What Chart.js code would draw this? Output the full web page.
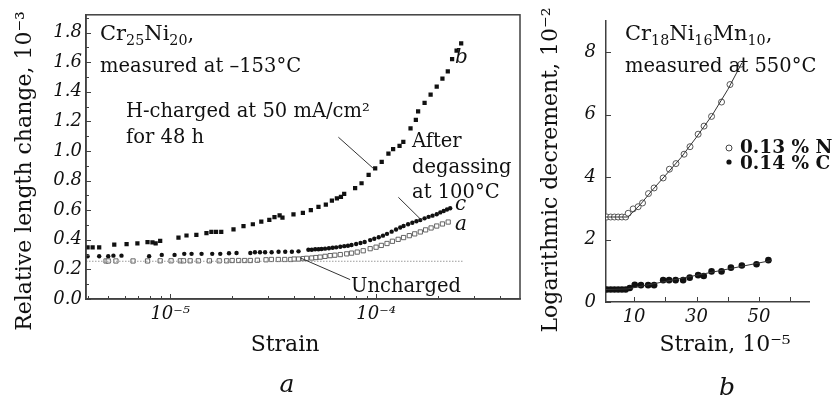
<!DOCTYPE html>
<html><head><meta charset="utf-8">
<script src="https://cdn.jsdelivr.net/npm/chart.js@4.4.0/dist/chart.umd.min.js"></script>
<style>
html,body{margin:0;padding:0;background:#fff;width:839px;height:404px;overflow:hidden}
#wa{position:absolute;left:0;top:0;width:530px;height:404px}
#wb{position:absolute;left:530px;top:0;width:309px;height:404px}
</style></head><body>
<div id="wa"><canvas id="ca" width="530" height="404"></canvas></div>
<div id="wb"><canvas id="cb" width="309" height="404"></canvas></div>
<script>
// ---------- Panel a: Cr25Ni20, relative length change (10^-3) vs strain ----------
const bStrain = [3.97e-6,4.2e-6,4.52e-6,5.35e-6,6.14e-6,6.93e-6,7.76e-6,8.2e-6,8.5e-6,8.94e-6,1.097e-5,1.2e-5,1.34e-5,1.5e-5,1.585e-5,1.67e-5,1.77e-5,2.03e-5,2.27e-5,2.52e-5,2.77e-5,3.03e-5,3.21e-5,3.4e-5,3.51e-5,3.97e-5,4.41e-5,4.82e-5,5.25e-5,5.7e-5,6.1e-5,6.45e-5,6.75e-5,7.0e-5,7.91e-5,8.5e-5,9.2e-5,9.9e-5,1.065e-4,1.148e-4,1.21e-4,1.30e-4,1.356e-4,1.47e-4,1.56e-4,1.6e-4,1.72e-4,1.84e-4,1.97e-4,2.1e-4,2.23e-4,2.34e-4,2.46e-4,2.59e-4];
const bLength = [0.349,0.349,0.349,0.367,0.371,0.375,0.385,0.382,0.375,0.393,0.415,0.429,0.433,0.445,0.453,0.453,0.453,0.471,0.493,0.505,0.522,0.535,0.553,0.565,0.549,0.571,0.582,0.600,0.622,0.638,0.665,0.68,0.69,0.71,0.749,0.782,0.838,0.882,0.927,0.982,1.013,1.035,1.062,1.153,1.21,1.268,1.325,1.38,1.435,1.488,1.538,1.62,1.678,1.727];
const cStrain = [3.97e-6,4.52e-6,5.0e-6,5.3e-6,5.8e-6,7.9e-6,9.1e-6,1.05e-5,1.17e-5,1.27e-5,1.42e-5,1.6e-5,1.75e-5,1.93e-5,2.1e-5,2.45e-5,2.58e-5,2.73e-5,2.89e-5,3.11e-5,3.36e-5,3.62e-5,3.9e-5,4.2e-5,4.69e-5,4.87e-5,5.06e-5,5.25e-5,5.43e-5,5.65e-5,5.9e-5,6.15e-5,6.4e-5,6.7e-5,7.0e-5,7.3e-5,7.6e-5,8.0e-5,8.4e-5,8.8e-5,9.36e-5,9.8e-5,1.03e-4,1.08e-4,1.13e-4,1.19e-4,1.25e-4,1.31e-4,1.36e-4,1.43e-4,1.5e-4,1.57e-4,1.64e-4,1.72e-4,1.8e-4,1.88e-4,1.97e-4,2.05e-4,2.13e-4,2.21e-4,2.29e-4];
const cLength = [0.289,0.289,0.289,0.293,0.293,0.289,0.298,0.298,0.305,0.305,0.305,0.305,0.305,0.309,0.311,0.311,0.316,0.316,0.316,0.316,0.319,0.319,0.319,0.322,0.333,0.333,0.336,0.336,0.338,0.340,0.343,0.346,0.349,0.353,0.357,0.360,0.365,0.372,0.378,0.385,0.398,0.407,0.417,0.428,0.440,0.455,0.470,0.483,0.493,0.505,0.515,0.525,0.533,0.545,0.555,0.563,0.573,0.585,0.595,0.605,0.613];
const aStrain = [4.88e-6,5.0e-6,5.45e-6,6.6e-6,7.76e-6,8.94e-6,1.01e-5,1.12e-5,1.16e-5,1.25e-5,1.37e-5,1.55e-5,1.73e-5,1.88e-5,2.0e-5,2.15e-5,2.3e-5,2.45e-5,2.65e-5,2.92e-5,3.1e-5,3.35e-5,3.6e-5,3.85e-5,4.0e-5,4.2e-5,4.43e-5,4.6e-5,4.87e-5,5.1e-5,5.35e-5,5.65e-5,5.98e-5,6.3e-5,6.7e-5,7.2e-5,7.6e-5,8.1e-5,8.66e-5,9.36e-5,1.0e-4,1.06e-4,1.13e-4,1.2e-4,1.28e-4,1.36e-4,1.45e-4,1.54e-4,1.64e-4,1.74e-4,1.85e-4,1.97e-4,2.1e-4,2.24e-4];
const aLength = [0.257,0.257,0.257,0.257,0.257,0.258,0.258,0.258,0.258,0.258,0.258,0.258,0.258,0.258,0.260,0.260,0.260,0.260,0.262,0.265,0.267,0.267,0.267,0.267,0.270,0.270,0.273,0.275,0.277,0.280,0.283,0.288,0.293,0.296,0.300,0.305,0.310,0.317,0.326,0.340,0.350,0.362,0.375,0.390,0.403,0.415,0.428,0.440,0.453,0.467,0.480,0.493,0.507,0.520];
const baseStrain = [3.9e-6, 2.64e-4];
const baseLength = [0.255, 0.255];
const aXTicks = [4e-6,5e-6,6e-6,7e-6,8e-6,9e-6,1e-5,2e-5,3e-5,4e-5,5e-5,6e-5,7e-5,8e-5,9e-5,1e-4,2e-4,3e-4,4e-4];
const aXMajor = [1e-5, 1e-4];
const aXLabels = ["10\u207B\u2075", "10\u207B\u2074"];
const aYTicks = [0,0.1,0.2,0.3,0.4,0.5,0.6,0.7,0.8,0.9,1.0,1.1,1.2,1.3,1.4,1.5,1.6,1.7,1.8,1.9];
const aYLabels = ["0.0","0.2","0.4","0.6","0.8","1.0","1.2","1.4","1.6","1.8"];
// leader lines (data coords: [x1,y1,x2,y2])
const leaderH = [6.56e-5, 1.093, 9.7e-5, 0.882];
const leaderDegas = [1.283e-4, 0.687, 1.667e-4, 0.531];
const leaderUnch = [4.28e-5, 0.278, 7.48e-5, 0.131];

// ---------- Panel b: Cr18Ni16Mn10, logarithmic decrement (10^-2) vs strain (10^-5) ----------
const nStrain = [1.3,2.5,3.7,4.9,6.1,7.3,8.1,9.7,11.3,12.7,14.6,16.4,19.3,21.3,23.4,26.0,27.9,30.5,32.4,34.8,38.0,40.7,44.2];
const nDecr   = [2.72,2.72,2.72,2.72,2.72,2.72,2.84,2.98,3.05,3.17,3.47,3.65,3.97,4.25,4.43,4.73,4.97,5.37,5.63,5.94,6.40,6.96,7.61];
const cbStrain = [1.3,2.5,3.7,4.9,6.1,7.3,8.6,10.2,12.2,14.5,16.4,19.3,21.2,23.3,25.7,27.8,30.5,32.3,34.8,38.0,41.0,44.5,49.2,53.0];
const cbDecr   = [0.40,0.40,0.40,0.40,0.40,0.40,0.45,0.55,0.54,0.54,0.54,0.70,0.70,0.70,0.70,0.78,0.86,0.83,0.98,0.98,1.10,1.17,1.21,1.34];
const fitNStrain = [1,8,12,16,20,25,30,35,40,44.5];
const fitNDecr   = [2.72,2.72,3.12,3.6,4.05,4.62,5.28,5.98,6.8,7.65];
const fitCStrain = [1,8,54];
const fitCDecr   = [0.40,0.42,1.33];
const bXTicks = [10,20,30,40,50,60];
const bXLabels = ["10","30","50"];
const bYTicks = [0,2,4,6,8];

const SERIF = "'DejaVu Serif', serif";
const AXIS = '#404040';
const INK = '#111';
const zip = (xs, ys) => xs.map((x, i) => ({x, y: ys[i]}));

function txt(ctx, s, x, y, size, opt = {}) {
  ctx.save();
  ctx.font = `${opt.style || 'normal'} ${opt.weight || 'normal'} ${size}px ${SERIF}`;
  ctx.fillStyle = opt.color || INK;
  ctx.textAlign = opt.align || 'left';
  ctx.textBaseline = 'middle';
  if (opt.rot) { ctx.translate(x, y); ctx.rotate(opt.rot); ctx.fillText(s, 0, 0); }
  else ctx.fillText(s, x, y);
  ctx.restore();
}
function rich(ctx, parts, x, y, size) {
  ctx.save();
  ctx.fillStyle = INK; ctx.textAlign = 'left'; ctx.textBaseline = 'middle';
  let cx = x;
  for (const [t, k] of parts) {
    const s = k === 'sub' ? size * 0.68 : size;
    ctx.font = `${s}px ${SERIF}`;
    ctx.fillText(t, cx, y + (k === 'sub' ? size * 0.32 : 0));
    cx += ctx.measureText(t).width;
  }
  ctx.restore();
}
function leader(chart, d) {
  const {ctx} = chart, xs = chart.scales.x, ys = chart.scales.y;
  ctx.save(); ctx.strokeStyle = '#333'; ctx.lineWidth = 1;
  ctx.beginPath();
  ctx.moveTo(xs.getPixelForValue(d[0]), ys.getPixelForValue(d[1]));
  ctx.lineTo(xs.getPixelForValue(d[2]), ys.getPixelForValue(d[3]));
  ctx.stroke(); ctx.restore();
}
function inwardTicks(chart, major, minor) {
  const {ctx, chartArea: ca} = chart, xs = chart.scales.x, ys = chart.scales.y;
  ctx.save(); ctx.strokeStyle = AXIS; ctx.lineWidth = 1;
  ctx.beginPath();
  xs.ticks.forEach(t => { const p = Math.round(xs.getPixelForValue(t.value)) + 0.5; const l = t.label ? major : minor; ctx.moveTo(p, ca.bottom); ctx.lineTo(p, ca.bottom - l); });
  ys.ticks.forEach(t => { const p = Math.round(ys.getPixelForValue(t.value)) + 0.5; const l = t.label ? major : minor; ctx.moveTo(ca.left, p); ctx.lineTo(ca.left + l, p); });
  ctx.stroke(); ctx.restore();
}
function logLabel(v) {
  const i = aXMajor.findIndex(m => Math.abs(Math.log10(v) - Math.log10(m)) < 1e-6);
  return i >= 0 ? aXLabels[i] : '';
}

const tickFont = {family: SERIF, size: 18, style: 'italic'};
const TXT = 19.5;

const decorA = {
  id: 'decorA',
  afterDraw(chart) {
    const {ctx, chartArea: ca} = chart;
    ctx.save(); ctx.strokeStyle = AXIS; ctx.lineWidth = 1.5;
    ctx.strokeRect(ca.left, ca.top, ca.right - ca.left, ca.bottom - ca.top);
    ctx.restore();
    inwardTicks(chart, 5, 3);
    leader(chart, leaderH); leader(chart, leaderDegas); leader(chart, leaderUnch);
    rich(ctx, [['Cr'], ['25', 'sub'], ['Ni'], ['20', 'sub'], [',']], 100, 35, 21);
    txt(ctx, 'measured at \u2013153\u00B0C', 100, 67, TXT);
    txt(ctx, 'H-charged at 50 mA/cm\u00B2', 126, 112, TXT);
    txt(ctx, 'for 48 h', 126, 138, TXT);
    txt(ctx, 'After', 412, 142, TXT);
    txt(ctx, 'degassing', 412, 168, TXT);
    txt(ctx, 'at 100\u00B0C', 412, 193, TXT);
    txt(ctx, 'Uncharged', 351, 287, TXT);
    txt(ctx, 'b', 455, 58, 20, {style: 'italic'});
    txt(ctx, 'c', 455, 205, 20, {style: 'italic'});
    txt(ctx, 'a', 455, 225, 20, {style: 'italic'});
    txt(ctx, 'Strain', 285, 345, 22, {align: 'center'});
    txt(ctx, 'a', 287, 385, 25, {align: 'center', style: 'italic'});
    txt(ctx, 'Relative length change, 10\u207B\u00B3', 25, 171, 22, {align: 'center', rot: -Math.PI / 2});
  }
};

new Chart(document.getElementById('ca'), {
  type: 'scatter',
  data: {datasets: [
    {label: 'Uncharged level', data: zip(baseStrain, baseLength), showLine: true, borderColor: '#9a9a9a', borderWidth: 1.2, borderDash: [1.5, 1.5], pointRadius: 0},
    {label: 'a (uncharged)', data: zip(aStrain, aLength), pointStyle: 'rect', pointRadius: 3, borderColor: '#555', borderWidth: 0.9, backgroundColor: '#fff'},
    {label: 'c (after degassing)', data: zip(cStrain, cLength), pointStyle: 'circle', pointRadius: 2.2, borderWidth: 0, backgroundColor: INK},
    {label: 'b (H-charged)', data: zip(bStrain, bLength), pointStyle: 'rect', pointRadius: 3, borderWidth: 0, backgroundColor: INK}
  ]},
  options: {
    responsive: false, animation: false,
    layout: {padding: {left: 0, top: 11, right: 10, bottom: 0}},
    plugins: {legend: {display: false}, tooltip: {enabled: false}},
    scales: {
      x: {
        type: 'logarithmic', min: 3.9e-6, max: 5.0e-4,
        afterBuildTicks: s => { s.ticks = aXTicks.map(v => ({value: v})); },
        afterFit: s => { s.height = 105; },
        ticks: {autoSkip: false, maxRotation: 0, padding: 5, color: INK, font: tickFont,
          callback: v => logLabel(v)},
        grid: {drawOnChartArea: false, drawTicks: false},
        border: {color: AXIS, width: 1.5}
      },
      y: {
        type: 'linear', min: 0, max: 1.92,
        afterBuildTicks: s => { s.ticks = aYTicks.map(v => ({value: v})); },
        afterFit: s => { s.width = 86; },
        ticks: {autoSkip: false, padding: 4, color: INK, font: tickFont,
          callback: v => { const k = Math.round(v * 10); return k % 2 === 0 ? aYLabels[k / 2] : ''; }},
        grid: {drawOnChartArea: false, drawTicks: false},
        border: {color: AXIS, width: 1.5}
      }
    }
  },
  plugins: [decorA]
});

const decorB = {
  id: 'decorB',
  afterDraw(chart) {
    const {ctx} = chart;
    inwardTicks(chart, 5, 5);
    rich(ctx, [['Cr'], ['18', 'sub'], ['Ni'], ['16', 'sub'], ['Mn'], ['10', 'sub'], [',']], 95, 35, 21);
    txt(ctx, 'measured at 550\u00B0C', 95, 67, TXT);
    ctx.save();
    ctx.lineWidth = 1; ctx.strokeStyle = '#444'; ctx.fillStyle = '#fff';
    ctx.beginPath(); ctx.arc(199, 148, 3, 0, Math.PI * 2); ctx.fill(); ctx.stroke();
    ctx.fillStyle = INK; ctx.beginPath(); ctx.arc(199, 162, 2.6, 0, Math.PI * 2); ctx.fill();
    ctx.restore();
    txt(ctx, '0.13 % N', 210, 148, 18.5, {weight: 'bold'});
    txt(ctx, '0.14 % C', 210, 164, 18.5, {weight: 'bold'});
    txt(ctx, 'Strain, 10\u207B\u2075', 195, 345, 22, {align: 'center'});
    txt(ctx, 'b', 197, 388, 25, {align: 'center', style: 'italic'});
    txt(ctx, 'Logarithmic decrement, 10\u207B\u00B2', 21, 170, 22, {align: 'center', rot: -Math.PI / 2});
  }
};

new Chart(document.getElementById('cb'), {
  type: 'scatter',
  data: {datasets: [
    {label: 'fit N', data: zip(fitNStrain, fitNDecr), showLine: true, borderColor: '#333', borderWidth: 1, pointRadius: 0},
    {label: 'fit C', data: zip(fitCStrain, fitCDecr), showLine: true, borderColor: '#333', borderWidth: 1, pointRadius: 0},
    {label: '0.13 % N', data: zip(nStrain, nDecr), pointStyle: 'circle', pointRadius: 3, borderColor: '#444', borderWidth: 0.9, backgroundColor: '#fff'},
    {label: '0.14 % C', data: zip(cbStrain, cbDecr), pointStyle: 'circle', pointRadius: 3.3, borderWidth: 0, backgroundColor: INK}
  ]},
  options: {
    responsive: false, animation: false,
    layout: {padding: {left: 0, top: 8, right: 30, bottom: 0}},
    plugins: {legend: {display: false}, tooltip: {enabled: false}},
    scales: {
      x: {
        type: 'linear', min: 1, max: 66,
        afterBuildTicks: s => { s.ticks = bXTicks.map(v => ({value: v})); },
        afterFit: s => { s.height = 102; },
        ticks: {autoSkip: false, maxRotation: 0, padding: 5, color: INK, font: tickFont,
          callback: v => bXLabels.includes(String(v)) ? String(v) : ''},
        grid: {drawOnChartArea: false, drawTicks: false},
        border: {color: AXIS, width: 1.5}
      },
      y: {
        type: 'linear', min: 0, max: 9,
        afterBuildTicks: s => { s.ticks = bYTicks.map(v => ({value: v})); },
        afterFit: s => { s.width = 76; },
        ticks: {autoSkip: false, padding: 10, color: INK, font: tickFont, callback: v => String(v)},
        grid: {drawOnChartArea: false, drawTicks: false},
        border: {color: AXIS, width: 1.5}
      }
    }
  },
  plugins: [decorB]
});
</script>
</body></html>
